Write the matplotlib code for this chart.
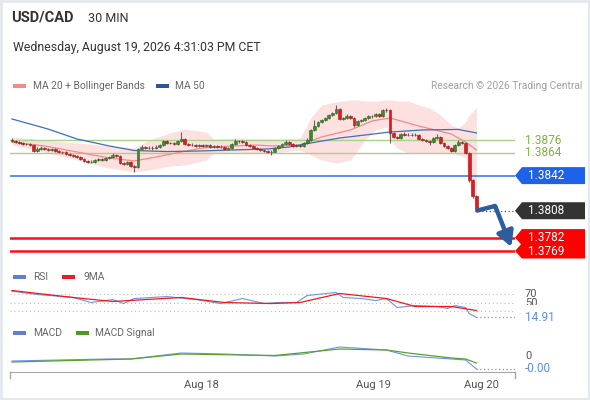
import numpy as np
import matplotlib
matplotlib.use('Agg')
import matplotlib.pyplot as plt
from matplotlib.patches import Polygon, Rectangle

plt.rcParams['font.family'] = ['Roboto', 'DejaVu Sans']

# ---------------- data ----------------
closes = [1.38755, 1.38745, 1.38736, 1.38726, 1.38726, 1.38716, 1.38658, 1.38678, 1.38687, 1.38678,
          1.38668, 1.38678, 1.38658, 1.38649, 1.38645, 1.38629, 1.38620, 1.38610, 1.38600, 1.38581,
          1.38562, 1.38552, 1.38555, 1.38571, 1.38581, 1.38571, 1.38591, 1.38600, 1.38620, 1.38610,
          1.38542, 1.38533, 1.38552, 1.38513, 1.38504, 1.38678, 1.38697, 1.38687, 1.38690, 1.38685,
          1.38697, 1.38716, 1.38755, 1.38736, 1.38733, 1.38726, 1.38755, 1.38775, 1.38726, 1.38716,
          1.38719, 1.38707, 1.38716, 1.38707, 1.38716, 1.38697, 1.38707, 1.38697, 1.38700, 1.38678,
          1.38687, 1.38726, 1.38755, 1.38752, 1.38745, 1.38716, 1.38707, 1.38687, 1.38678, 1.38668,
          1.38658, 1.38649, 1.38652, 1.38687, 1.38707, 1.38726, 1.38745, 1.38726, 1.38707, 1.38716,
          1.38707, 1.38736, 1.38765, 1.38862, 1.38900, 1.38939, 1.38958, 1.38978, 1.39007, 1.39026,
          1.39065, 1.38968, 1.38978, 1.38997, 1.38978, 1.38910, 1.38949, 1.38958, 1.38978, 1.38997,
          1.38994, 1.39017, 1.38997, 1.39055, 1.39052, 1.38833, 1.38794, 1.38784, 1.38823, 1.38813,
          1.38815, 1.38811, 1.38813, 1.38775, 1.38765, 1.38755, 1.38745, 1.38784, 1.38794, 1.38736,
          1.38707, 1.38687, 1.38658, 1.38716, 1.38745, 1.38736, 1.38639, 1.38378, 1.38223, 1.38080]
first_open = 1.38765
opens = [first_open] + closes[:-1]
highs = [1.38780, 1.38765, 1.38755, 1.38745, 1.38740, 1.38738, 1.38725, 1.38700, 1.38705, 1.38700,
         1.38690, 1.38690, 1.38688, 1.38668, 1.38660, 1.38655, 1.38640, 1.38632, 1.38622, 1.38612,
         1.38592, 1.38575, 1.38568, 1.38585, 1.38595, 1.38592, 1.38602, 1.38612, 1.38640, 1.38630,
         1.38620, 1.38555, 1.38565, 1.38560, 1.38525, 1.38690, 1.38720, 1.38710, 1.38705, 1.38702,
         1.38712, 1.38730, 1.38768, 1.38765, 1.38748, 1.38745, 1.38768, 1.38842, 1.38785, 1.38738,
         1.38732, 1.38728, 1.38728, 1.38726, 1.38730, 1.38726, 1.38720, 1.38718, 1.38712, 1.38710,
         1.38700, 1.38738, 1.38770, 1.38768, 1.38765, 1.38755, 1.38728, 1.38718, 1.38698, 1.38690,
         1.38680, 1.38670, 1.38665, 1.38698, 1.38720, 1.38740, 1.38760, 1.38755, 1.38735, 1.38730,
         1.38728, 1.38750, 1.38780, 1.38875, 1.38958, 1.38952, 1.38972, 1.38992, 1.39020, 1.39040,
         1.39104, 1.39075, 1.38992, 1.39012, 1.39008, 1.38988, 1.38960, 1.38972, 1.38990, 1.39010,
         1.39010, 1.39030, 1.39028, 1.39068, 1.39070, 1.39060, 1.38845, 1.38805, 1.38835, 1.38838,
         1.38830, 1.38828, 1.38828, 1.38822, 1.38785, 1.38778, 1.38768, 1.38798, 1.38820, 1.38805,
         1.38745, 1.38718, 1.38695, 1.38730, 1.38760, 1.38758, 1.38745, 1.38650, 1.38390, 1.38235]
lows = [1.38745, 1.38735, 1.38725, 1.38715, 1.38712, 1.38705, 1.38645, 1.38650, 1.38670, 1.38665,
        1.38655, 1.38658, 1.38648, 1.38638, 1.38632, 1.38618, 1.38608, 1.38598, 1.38588, 1.38570,
        1.38550, 1.38540, 1.38540, 1.38545, 1.38562, 1.38560, 1.38562, 1.38582, 1.38592, 1.38600,
        1.38532, 1.38520, 1.38522, 1.38500, 1.38455, 1.38495, 1.38668, 1.38675, 1.38675, 1.38672,
        1.38675, 1.38688, 1.38708, 1.38725, 1.38722, 1.38715, 1.38718, 1.38745, 1.38715, 1.38705,
        1.38705, 1.38695, 1.38698, 1.38695, 1.38698, 1.38685, 1.38688, 1.38685, 1.38686, 1.38666,
        1.38668, 1.38680, 1.38718, 1.38740, 1.38735, 1.38705, 1.38695, 1.38675, 1.38665, 1.38655,
        1.38645, 1.38635, 1.38620, 1.38645, 1.38680, 1.38700, 1.38718, 1.38715, 1.38695, 1.38698,
        1.38695, 1.38700, 1.38728, 1.38755, 1.38852, 1.38890, 1.38930, 1.38948, 1.38970, 1.38998,
        1.39018, 1.38955, 1.38958, 1.38968, 1.38968, 1.38895, 1.38900, 1.38940, 1.38950, 1.38970,
        1.38982, 1.38985, 1.38985, 1.38990, 1.39040, 1.38736, 1.38780, 1.38770, 1.38775, 1.38800,
        1.38802, 1.38800, 1.38800, 1.38765, 1.38752, 1.38742, 1.38716, 1.38738, 1.38775, 1.38725,
        1.38695, 1.38675, 1.38645, 1.38650, 1.38708, 1.38722, 1.38625, 1.38355, 1.38200, 1.38065]

ma20_idx = [0, 9, 18, 27, 34, 40, 47, 53, 61, 68, 72, 80, 86, 94, 100, 105, 113, 122, 126, 129]
ma20 = [1.38745, 1.38707, 1.38649, 1.38591, 1.38562, 1.38600, 1.38649, 1.38687, 1.38707, 1.38716,
        1.38707, 1.38716, 1.38794, 1.38862, 1.38949, 1.38978, 1.38900, 1.38823, 1.38745, 1.38668]

ma50_idx = [0, 5, 10, 18, 27, 34, 43, 52, 61, 71, 77, 83, 91, 98, 105, 114, 124, 129]
ma50 = [1.38968, 1.38920, 1.38871, 1.38775, 1.38707, 1.38663, 1.38653, 1.38658, 1.38668, 1.38678,
        1.38697, 1.38736, 1.38784, 1.38813, 1.38842, 1.38862, 1.38867, 1.38833]

bb_idx = [0, 9, 18, 27, 34, 38, 44, 48, 54, 56, 62, 68, 75, 80, 83, 86, 90, 94, 96, 98, 101, 104,
          105, 107, 110, 113, 116, 119, 122, 124, 126, 127, 129]
bb_upper = [1.38794, 1.38765, 1.38736, 1.38707, 1.38687, 1.38765, 1.38833, 1.38871, 1.38842, 1.38775,
            1.38784, 1.38775, 1.38775, 1.38784, 1.38978, 1.39104, 1.39133, 1.39152, 1.39152, 1.39142,
            1.39142, 1.39152, 1.39152, 1.39142, 1.39142, 1.39104, 1.39075, 1.39007, 1.38910, 1.38881,
            1.38939, 1.39007, 1.39075]
bb_lower = [1.38716, 1.38649, 1.38571, 1.38494, 1.38455, 1.38474, 1.38513, 1.38523, 1.38571, 1.38639,
            1.38649, 1.38639, 1.38649, 1.38668, 1.38620, 1.38571, 1.38542, 1.38571, 1.38668, 1.38765,
            1.38862, 1.38891, 1.38765, 1.38687, 1.38639, 1.38639, 1.38639, 1.38639, 1.38639, 1.38620,
            1.38591, 1.38329, 1.38087]

level_green = [1.3876, 1.3864]
level_blue = 1.3842
level_red = [1.3782, 1.3769]
last_price = 1.3808

forecast_idx = [129, 134.2, 138.7]
forecast_px = [1.38080, 1.38126, 1.37730]

rsi_idx = [0, 7, 17, 22, 28, 31, 34, 43, 51, 58, 64, 70, 74, 79, 82, 90, 92, 97, 101, 104, 107, 112,
           118, 121, 123, 126, 127, 129]
rsi = [76.6, 68.8, 61.8, 50, 57, 47.6, 59.4, 64, 57, 47.6, 59.4, 47.6, 50, 50, 66.5, 73.5, 61.8, 59.4,
       54.7, 59.4, 38.2, 42.9, 40.6, 35.9, 42.9, 38.2, 24, 14.91]
rsi9_idx = [0, 17, 28, 47, 59, 72, 80, 91, 104, 112, 122, 129]
rsi9 = [78.2, 61.8, 52.4, 61.8, 50, 47.6, 50, 71.2, 59.4, 40.6, 40.6, 31.2]
rsi_levels = [70, 50, 30]

macd_idx = [0, 26, 33, 47, 59, 73, 81, 91, 104, 110, 122, 126, 129]
macd = [-0.00018, -0.00012, -0.00012, 0.00006, 0.00003, -0.00003, 0.00003, 0.00024, 0.00015,
        -0.00003, -0.00012, -0.00015, -0.00042]
sig_idx = [0, 33, 47, 73, 91, 104, 110, 122, 126, 129]
sig = [-0.00021, -0.00012, 0.00003, -0.000015, 0.00018, 0.00015, 0.00006, -0.00009, -0.00012, -0.00024]

date_idx = [52.5, 100.4, 130.3]
date_labels = ['Aug 18', 'Aug 19', 'Aug 20']

# ---------------- figure ----------------
W, H = 590, 400
fig = plt.figure(figsize=(W / 100, H / 100), dpi=100)
fig.patch.set_facecolor('white')


def rect(x0, y0, x1, y1):
    return [x0 / W, 1 - y1 / H, (x1 - x0) / W, (y1 - y0) / H]


XL = (-0.556, 139.72)
ax = fig.add_axes(rect(10, 97, 515, 263))
ax.set_xlim(*XL)
ax.set_ylim(1.37574, 1.39181)
ax.axis('off')

rax = fig.add_axes(rect(10, 285, 515, 322))
rax.set_xlim(*XL)
rax.set_ylim(4.12, 91.2)
rax.axis('off')

max_ = fig.add_axes(rect(10, 340, 515, 372))
max_.set_xlim(*XL)
max_.set_ylim(-0.00051, 0.00045)
for s in ['top', 'left', 'right']:
    max_.spines[s].set_visible(False)
max_.spines['bottom'].set_color('#a8a8a8')
max_.set_facecolor('none')
max_.set_yticks([])
max_.set_xticks(date_idx)
max_.set_xticklabels(date_labels)
max_.tick_params(axis='x', length=0, pad=6, labelsize=8, labelcolor='#555555')

ov = fig.add_axes([0, 0, 1, 1])
ov.set_xlim(0, W)
ov.set_ylim(0, H)
ov.axis('off')
ov.set_zorder(10)

# Bollinger + MAs
ax.fill_between(bb_idx, bb_lower, bb_upper, color='#fde0e0', lw=0, zorder=1)
for lv in level_green:
    ax.axhline(lv, color='#a9d18e', lw=1.0, zorder=2)
ax.axhline(level_blue, color='#2f6fe4', lw=1.1, zorder=2)
for lv in level_red:
    ax.axhline(lv, color='#ff1010', lw=1.8, zorder=2)
ax.plot(ma20_idx, ma20, color='#f28a8a', lw=0.9, zorder=3)
ax.plot(ma50_idx, ma50, color='#3f6fb8', lw=0.9, zorder=3)

# candles
idx = np.arange(len(closes))
o = np.array(opens); c = np.array(closes)
hi = np.array(highs); lo = np.array(lows)
bot = np.minimum(o, c)
hgt = np.maximum(np.abs(c - o), 0.00002)
upm = c >= o
ax.vlines(idx, lo, hi, color='#666666', lw=0.8, zorder=4)
ax.bar(idx[upm], hgt[upm], bottom=bot[upm], width=0.75, color='#3e8a2a',
       edgecolor='#2e6420', lw=0.4, zorder=5)
ax.bar(idx[~upm], hgt[~upm], bottom=bot[~upm], width=0.75, color='#d81e1e',
       edgecolor='#a01515', lw=0.4, zorder=5)

# last price dotted and forecast arrow
ax.plot([idx[-1] + 0.5, XL[1]], [last_price, last_price], color='#555555', lw=0.9,
        ls=(0, (1, 2)), zorder=3)
ax.plot(forecast_idx[:2], forecast_px[:2], color='#2d5d9c', lw=3.2, zorder=6,
        solid_capstyle='butt')
ax.annotate('', xy=(forecast_idx[2], forecast_px[2]), xytext=(forecast_idx[1], forecast_px[1]),
            arrowprops=dict(arrowstyle='-|>,head_width=0.5,head_length=0.9', lw=3.2,
                            color='#2d5d9c', shrinkA=0, shrinkB=0, mutation_scale=10),
            zorder=6, annotation_clip=False)


def py(a, v):
    return a.transData.transform((0, v))[1]


def tag(yc, color, text):
    h = 8.5
    pts = [(515, yc), (522, yc + h), (585, yc + h), (585, yc - h), (522, yc - h)]
    ov.add_patch(Polygon(pts, closed=True, fc=color, ec='none'))
    ov.text(528, yc, text, color='white', fontsize=8.5, va='center', ha='left')


fig.canvas.draw()
tag(py(ax, level_blue), '#1f62ea', f'{level_blue:.4f}')
tag(py(ax, last_price), '#333333', f'{last_price:.4f}')
y1 = py(ax, level_red[0]); y2 = py(ax, level_red[1])
ov.add_patch(Polygon([(522, y1 + 8.5), (585, y1 + 8.5), (585, y2 - 7.5), (522, y2 - 7.5),
                      (515, y2), (521, (y1 + y2) / 2), (515, y1)], closed=True, fc='#ff0000', ec='none'))
ov.text(528, y1, f'{level_red[0]:.4f}', color='white', fontsize=8.5, va='center')
ov.text(528, y2, f'{level_red[1]:.4f}', color='white', fontsize=8.5, va='center')
for lv in level_green:
    ov.text(525, py(ax, lv), f'{lv:.4f}', color='#7cb342', fontsize=8.5, va='center')

# RSI
for lv in rsi_levels:
    rax.axhline(lv, color='#bdbdbd', lw=0.8, ls=(0, (1, 2.5)))
rax.plot(rsi_idx, rsi, color='#6f93e6', lw=0.8)
rax.plot(rsi9_idx, rsi9, color='#f01818', lw=0.9)
rax.plot([rsi_idx[-1], XL[1]], [rsi[-1], rsi[-1]], color='#6f93e6', lw=0.9, ls=(0, (1, 2)))
ov.text(525, py(rax, 70), '70', color='#555555', fontsize=8, va='center')
ov.text(525, py(rax, 50), '50', color='#555555', fontsize=8, va='center')
ry = py(rax, rsi[-1])
ov.add_patch(Rectangle((520, ry - 9), 45, 21.5, fc='white', ec='none', zorder=3.5))
ov.text(525, ry, f'{rsi[-1]:.2f}', color='#5b8def', fontsize=8.5, va='center', zorder=4)

# MACD
max_.plot(macd_idx, macd, color='#6f93e6', lw=0.8)
max_.plot(sig_idx, sig, color='#5aa02c', lw=0.9)
max_.plot([macd_idx[-1], XL[1]], [macd[-1], macd[-1]], color='#6f93e6', lw=0.9, ls=(0, (1, 2)))
ov.text(525, py(max_, 0) - 1, '0', color='#555555', fontsize=8, va='center')
ov.text(525, py(max_, macd[-1]), f'{macd[-1]:.2f}', color='#5b8def', fontsize=8.5, va='center')
# end ticks of the time axis
for xx in (10, 515):
    ov.plot([xx, xx], [H - 372, H - 378], color='#a8a8a8', lw=1)

# header texts
ov.text(11, H - 18, 'USD/CAD', fontsize=10.5, fontweight='bold', color='#333333', va='center')
ov.text(88, H - 18, '30 MIN', fontsize=9, color='#333333', va='center')
ov.text(13, H - 47, 'Wednesday, August 19, 2026 4:31:03 PM CET', fontsize=8.8, color='#333333',
        va='center')


def legend_item(x, y, color, label, tx):
    ov.add_patch(Rectangle((x, H - y - 2), 13, 4.5, fc=color, ec='none'))
    ov.text(tx, H - y, label, fontsize=7.4, color='#666666', va='center')


legend_item(13, 86, '#f38b8b', 'MA 20 + Bollinger Bands', 33)
legend_item(156, 86, '#2f5597', 'MA 50', 175)
ov.text(582, H - 86, 'Research © 2026 Trading Central', fontsize=7.4, color='#a0a0a0',
        va='center', ha='right')
legend_item(13, 277, '#5b7fd6', 'RSI', 33)
legend_item(62, 277, '#ee1c1c', '9MA', 83)
legend_item(13, 333, '#5b7fd6', 'MACD', 33)
legend_item(76, 333, '#4d9a1e', 'MACD Signal', 95)

ov.add_patch(Rectangle((1, 1), W - 2, H - 2, fill=False, ec='#e4e8ec', lw=2))

fig.savefig('out.png', dpi=100, facecolor='white')
